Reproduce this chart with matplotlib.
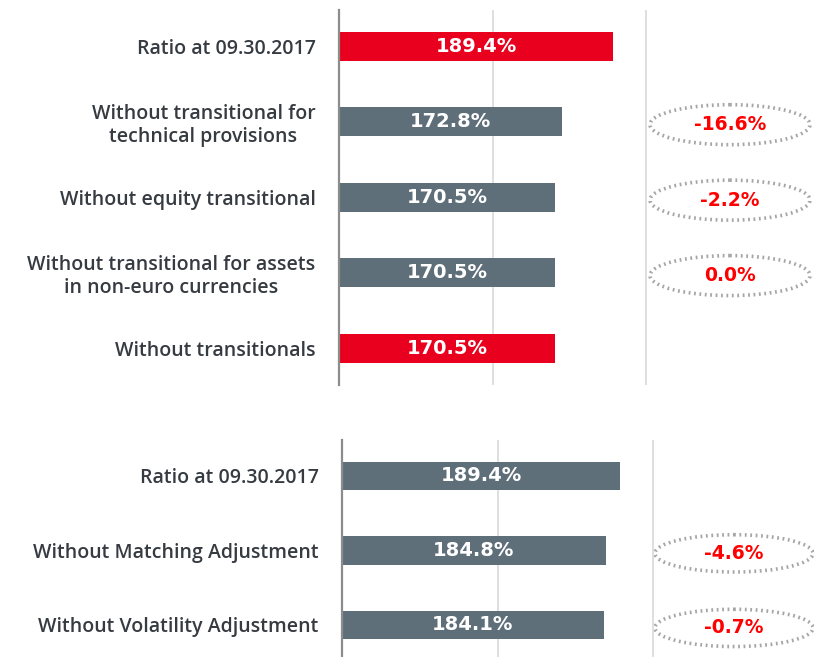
import matplotlib
matplotlib.use("Agg")
import matplotlib.pyplot as plt
from matplotlib.patches import Ellipse

# top panel: transitional measures
top_labels = ["Ratio at 09.30.2017",
              "Without transitional for\ntechnical provisions",
              "Without equity transitional",
              "Without transitional for assets\nin non-euro currencies",
              "Without transitionals"]
top_values = [189.4, 172.8, 170.5, 170.5, 170.5]
top_deltas = [None, -16.6, -2.2, 0.0, None]
top_colors = ["#E8001E", "#5F6F7A", "#5F6F7A", "#5F6F7A", "#E8001E"]

# bottom panel: LTG measures
bot_labels = ["Ratio at 09.30.2017",
              "Without Matching Adjustment",
              "Without Volatility Adjustment"]
bot_values = [189.4, 184.8, 184.1]
bot_deltas = [None, -4.6, -0.7]
bot_colors = ["#5F6F7A", "#5F6F7A", "#5F6F7A"]

W, H = 814, 657
fig = plt.figure(figsize=(W / 100, H / 100), dpi=100)

LABEL_COLOR = "#363B42"
GRID = "#D9D9D9"


def panel(rect_px, labels, values, deltas, colors, xmax, ylim, bar_h, ell_x, ell_w, ell_h):
    x0, y0, x1, y1 = rect_px
    ax = fig.add_axes([x0 / W, 1 - y1 / H, (x1 - x0) / W, (y1 - y0) / H])
    pos = list(range(len(values)))
    ax.barh(pos, values, left=0, height=bar_h, color=colors, zorder=3)
    ax.set_xlim(100, xmax)
    ax.set_ylim(*ylim)
    for sp in ["top", "right", "bottom"]:
        ax.spines[sp].set_visible(False)
    ax.spines["left"].set_color("#8C8C8C")
    ax.spines["left"].set_linewidth(1.6)
    ax.spines["left"].set_zorder(4)
    ax.set_xticks([150, 200])
    ax.xaxis.grid(True, color=GRID, linewidth=1.2, zorder=0)
    ax.tick_params(axis="x", length=0, labelbottom=False)
    ax.set_yticks(pos)
    ax.set_yticklabels(labels, fontsize=14, color=LABEL_COLOR,
                       family="Open Sans", fontweight="semibold")
    for t in ax.get_yticklabels():
        t.set_multialignment("center")
    ax.tick_params(axis="y", length=0, pad=17)
    for p, v in zip(pos, values):
        ax.text((100 + v) / 2, p, f"{v:.1f}%", ha="center", va="center",
                color="white", fontsize=14, fontweight="bold", zorder=5)
    for p, d in zip(pos, deltas):
        if d is None:
            continue
        e = Ellipse((ell_x, p + 0.04), ell_w, ell_h, fill=False, edgecolor="#A6A6A6",
                    linewidth=2.6, linestyle=(0, (0.5, 1.0)), clip_on=False, zorder=4)
        ax.add_patch(e)
        ax.text(ell_x, p + 0.04, f"{d:.1f}%", ha="center", va="center",
                color="#FF0000", fontsize=13.5, fontweight="bold", zorder=5)
    return ax


panel((339, 10, 814, 385), top_labels, top_values, top_deltas, top_colors,
      xmax=100 + 475 / 3.07, ylim=(4.49, -0.48), bar_h=0.385,
      ell_x=100 + (730 - 339) / 3.07, ell_w=160 / 3.07, ell_h=0.53)

panel((342, 440, 814, 657), bot_labels, bot_values, bot_deltas, bot_colors,
      xmax=100 + 472 / 3.11, ylim=(2.43, -0.48), bar_h=0.38,
      ell_x=100 + (734 - 342) / 3.11, ell_w=158 / 3.11, ell_h=0.5)

fig.savefig("out.png", dpi=100)
